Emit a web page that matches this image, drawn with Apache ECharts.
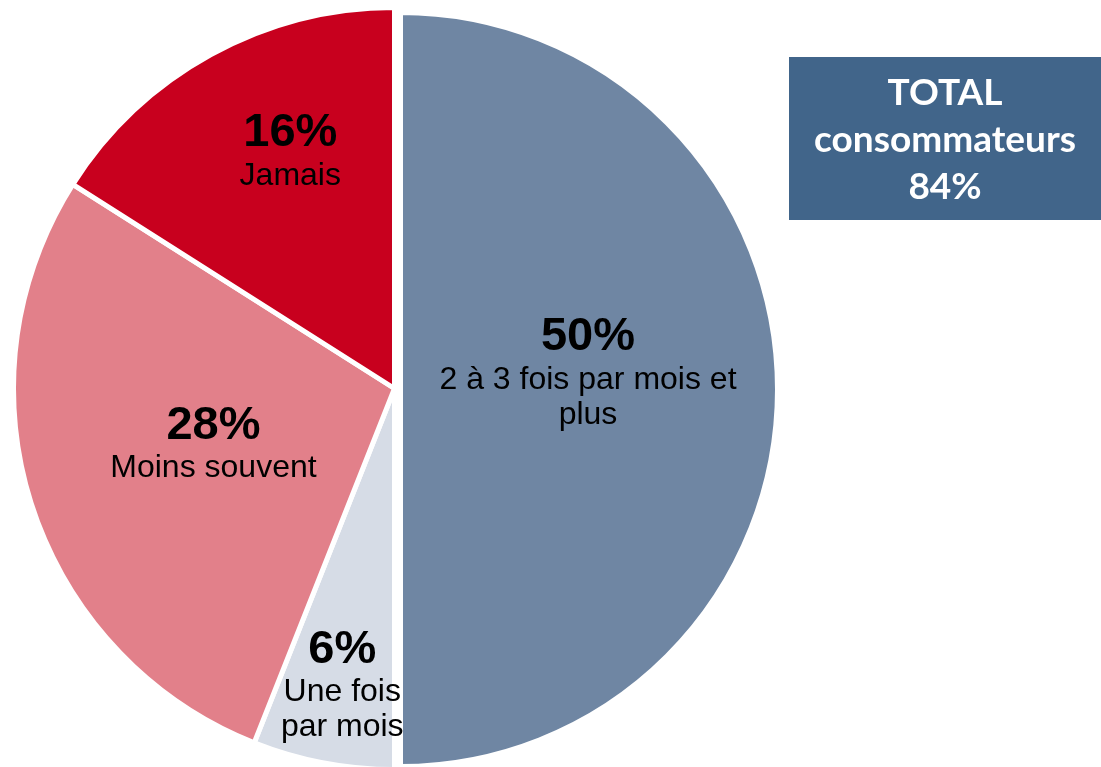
<!DOCTYPE html>
<html>
<head>
<meta charset="utf-8">
<script src="https://cdn.jsdelivr.net/npm/echarts@6/dist/echarts.min.js"></script>
<style>
  html, body { margin: 0; padding: 0; background: #fff; }
  #main { width: 1101px; height: 767px; }
</style>
</head>
<body>
<div id="main"></div>
<script>
// données
const categories = ['2 à 3 fois par mois et\nplus', 'Une fois\npar mois', 'Moins souvent', 'Jamais'];
const values = [50, 6, 28, 16];
const colors = ['#6f86a3', '#d6dce6', '#e2808a', '#c8001e'];
const boxTitle = ['TOTAL', 'consommateurs'];

// petit décalage des étiquettes (dx, dy) pour coller au modèle
const labelNudge = [[-4, -17], [-16, 106], [3, -5], [-11, -68]];

// total consommateurs = tout sauf "Jamais"
const consumers = values.slice(0, 3).reduce((a, b) => a + b, 0);

const chart = echarts.init(document.getElementById('main'));
const ff = '"Liberation Sans", Arial, sans-serif';

// la part "2 à 3 fois" est détachée et un peu plus petite : deuxième camembert
function pieSeries(center, radius, visible) {
    return {
        type: 'pie',
        center: center,
        radius: radius,
        startAngle: 90,
        clockwise: true,
        avoidLabelOverlap: false,
        silent: true,
        label: {
            position: 'inside',
            color: '#000',
            fontFamily: ff,
            formatter: function (p) {
                const lines = p.name.split('\n').map(s => '{n|' + s + '}');
                return '{p|' + p.value + '%}\n' + lines.join('\n');
            },
            rich: {
                p: { fontSize: 47, fontWeight: 'bold', lineHeight: 50, color: '#000', fontFamily: ff },
                n: { fontSize: 32, lineHeight: 35, color: '#000', fontFamily: ff }
            }
        },
        labelLine: { show: false },
        emphasis: { disabled: true },
        labelLayout: function (params) {
            const d = labelNudge[params.dataIndex];
            return { dx: d[0], dy: d[1] };
        },
        data: categories.map((c, i) => ({
            name: c,
            value: values[i],
            itemStyle: visible(i)
                ? { color: colors[i], borderColor: '#fff', borderWidth: 5 }
                : { color: 'transparent', borderWidth: 0 },
            label: { show: visible(i) }
        }))
    };
}

const option = {
    animation: false,
    series: [
        pieSeries([394.5, 388.5], 381, i => i !== 0),
        pieSeries([400.5, 389.5], 377, i => i === 0)
    ],
    graphic: [{
        type: 'group',
        left: 789,
        top: 57,
        children: [{
            type: 'rect',
            shape: { x: 0, y: 0, width: 312, height: 163 },
            style: { fill: '#41658a' }
        }, {
            type: 'text',
            x: 156,
            y: 83,
            style: {
                text: boxTitle.join('\n') + '\n' + consumers + '%',
                fill: '#fff',
                font: 'bold 37px Lato, "Open Sans", sans-serif',
                lineHeight: 47,
                align: 'center',
                verticalAlign: 'middle'
            }
        }]
    }]
};

option && chart.setOption(option);
</script>
</body>
</html>
